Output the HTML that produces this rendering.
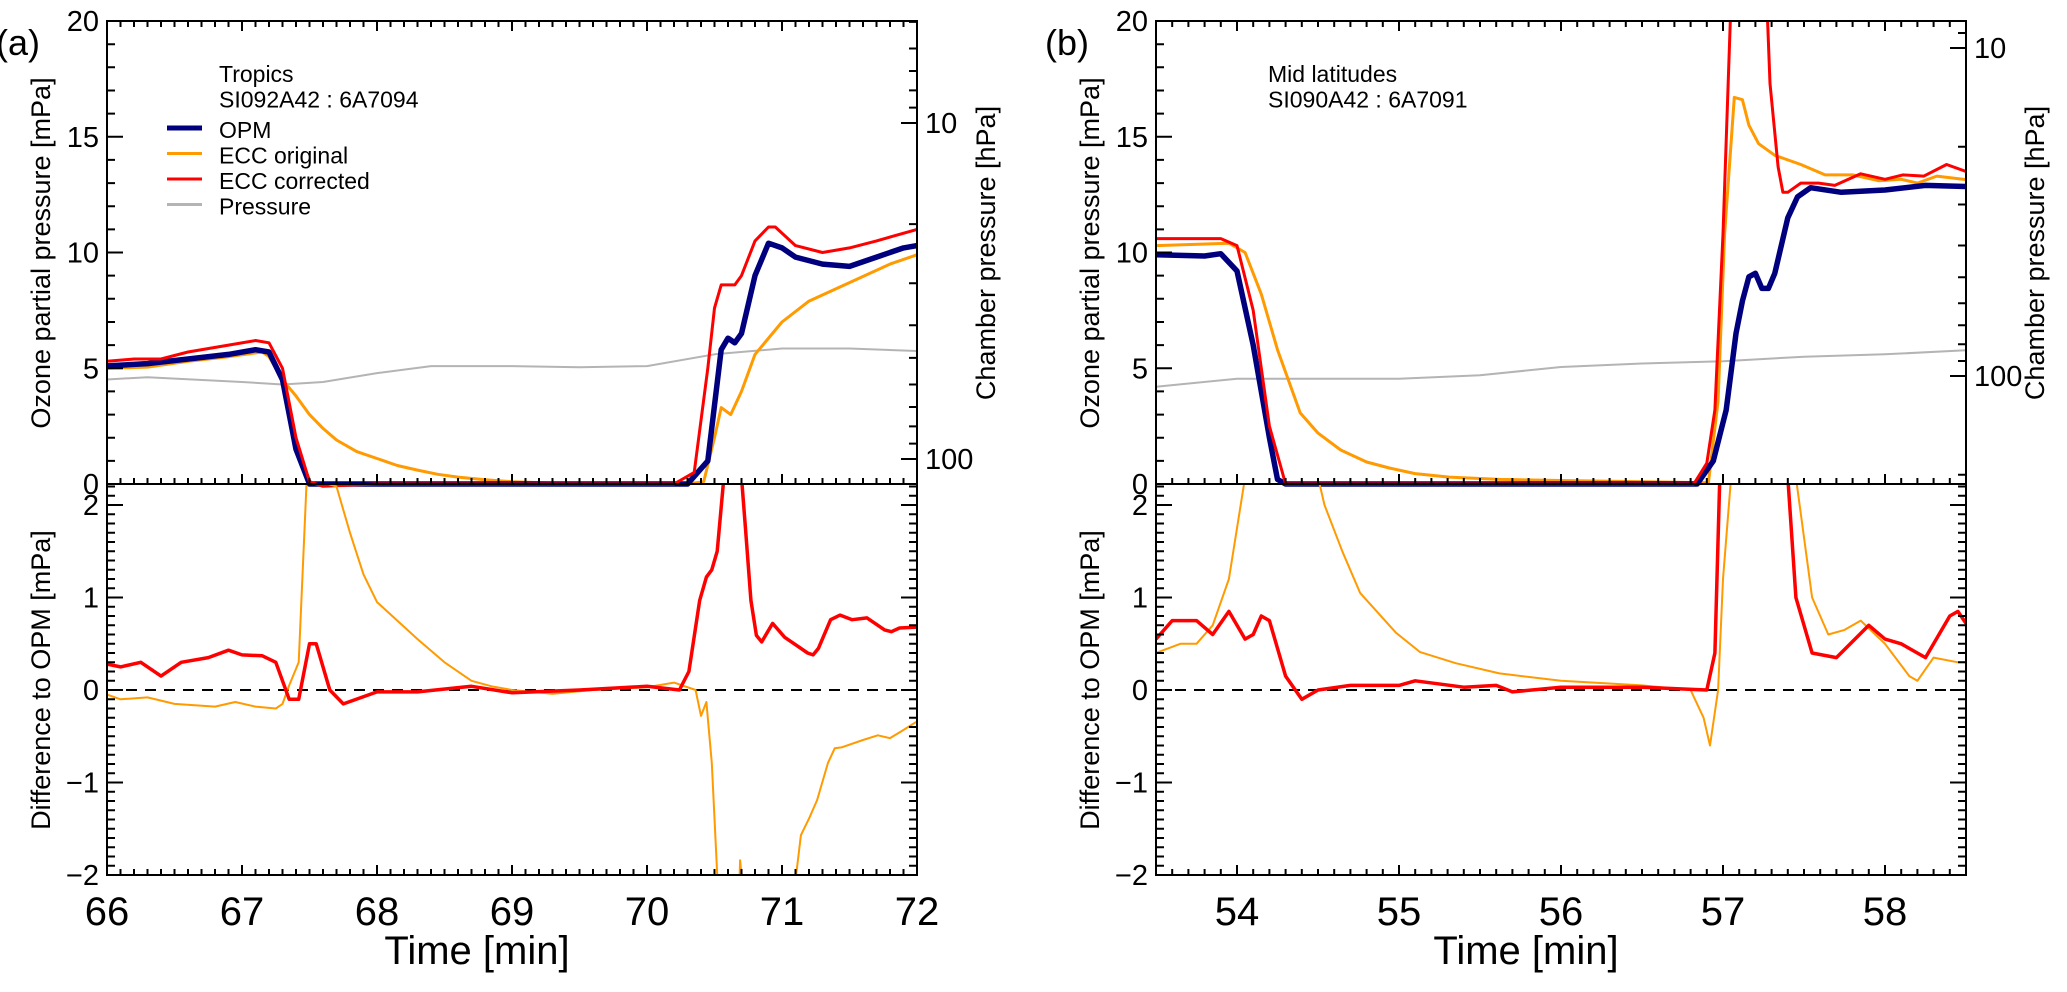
<!DOCTYPE html>
<html><head><meta charset="utf-8">
<style>
html,body{margin:0;padding:0;background:#fff;}
svg{display:block;font-family:"Liberation Sans",Arial,sans-serif;}
</style></head>
<body>
<svg id="chart" width="2067" height="992" viewBox="0 0 2067 992" xmlns="http://www.w3.org/2000/svg">
<defs>
<clipPath id="clipUa"><rect x="107" y="21" width="810" height="468"/></clipPath>
<clipPath id="clipLa"><rect x="107" y="484" width="810" height="391"/></clipPath>
<clipPath id="clipUb"><rect x="1156" y="21" width="810" height="468"/></clipPath>
<clipPath id="clipLb"><rect x="1156" y="484" width="810" height="391"/></clipPath>
</defs>
<g id="layer"></g>
</svg>
<script>
// ---------- Panel (a) data: Tropics ----------
const aOpmT = [66,66.3,66.6,66.9,67.1,67.2,67.3,67.4,67.5,68,68.5,69,69.5,70,70.3,70.45,70.55,70.6,70.65,70.7,70.8,70.9,71,71.1,71.3,71.5,71.7,71.9,72];
const aOpmV = [5.1,5.2,5.4,5.6,5.8,5.7,4.5,1.5,0,0,0,0,0,0,0,1,5.8,6.3,6.1,6.5,9,10.4,10.2,9.8,9.5,9.4,9.8,10.2,10.3];
const aCorT = [66,66.2,66.4,66.6,66.9,67.1,67.2,67.3,67.4,67.5,67.6,68,69,70,70.2,70.35,70.45,70.5,70.55,70.65,70.7,70.8,70.9,70.95,71.1,71.3,71.5,71.7,72];
const aCorV = [5.3,5.4,5.4,5.7,6.0,6.2,6.1,5,2,0.1,-0.1,0,0,0,0,0.5,5,7.6,8.6,8.6,9.0,10.5,11.1,11.1,10.3,10.0,10.2,10.5,11.0];
const aOriT = [66,66.3,66.6,66.9,67.15,67.2,67.3,67.4,67.5,67.6,67.7,67.85,68,68.15,68.3,68.45,68.6,68.8,69,69.5,70.3,70.42,70.5,70.55,70.62,70.7,70.8,71,71.2,71.5,71.8,72];
const aOriV = [5.0,5.05,5.3,5.5,5.7,5.5,4.5,3.8,3.0,2.4,1.9,1.4,1.1,0.8,0.6,0.42,0.3,0.18,0.1,0,0,0.1,2,3.3,3.0,4,5.6,7,7.9,8.7,9.5,9.9];
const aPresT = [66,66.3,67,67.3,67.6,68,68.4,69,69.5,70,70.5,71,71.5,72];
const aPresV = [58.0,57.1,59.0,60.0,59.0,55.5,52.9,52.9,53.3,52.9,48.8,46.9,46.9,47.7];
const aDCorT = [66,66.1,66.25,66.4,66.55,66.75,66.9,67.0,67.15,67.25,67.35,67.42,67.5,67.55,67.65,67.75,68,68.3,68.7,69,69.5,70,70.24,70.31,70.39,70.44,70.48,70.52,70.57,70.7,70.73,70.77,70.81,70.85,70.93,71.02,71.11,71.19,71.23,71.27,71.36,71.43,71.52,71.63,71.69,71.76,71.81,71.87,72];
const aDCorV = [0.28,0.25,0.3,0.15,0.3,0.35,0.43,0.38,0.37,0.3,-0.1,-0.1,0.5,0.5,0.0,-0.15,-0.02,-0.02,0.04,-0.03,0.0,0.04,0,0.2,0.97,1.22,1.3,1.5,2.3,2.3,1.73,0.97,0.59,0.52,0.72,0.57,0.48,0.4,0.38,0.45,0.76,0.81,0.76,0.78,0.72,0.65,0.63,0.67,0.68];
const aDOriT = [66,66.1,66.3,66.5,66.8,66.95,67.1,67.25,67.3,67.35,67.42,67.48,67.7,67.8,67.9,68,68.15,68.3,68.5,68.7,68.85,69,69.3,69.6,70,70.2,70.36,70.4,70.44,70.48,70.53,70.68,70.69,70.72,71.08,71.14,71.2,71.26,71.34,71.39,71.44,71.6,71.71,71.8,71.88,72];
const aDOriV = [-0.05,-0.1,-0.08,-0.15,-0.18,-0.13,-0.18,-0.2,-0.15,0.05,0.3,2.3,2.2,1.7,1.25,0.95,0.75,0.55,0.3,0.1,0.04,0,-0.04,0,0.03,0.08,0,-0.28,-0.13,-0.79,-2.3,-2.3,-1.84,-2.3,-2.3,-1.57,-1.39,-1.19,-0.79,-0.63,-0.62,-0.54,-0.49,-0.52,-0.45,-0.34];
// ---------- Panel (b) data: Mid latitudes ----------
const bOpmT = [53.5,53.8,53.9,54.0,54.1,54.2,54.25,54.3,55,56,56.84,56.94,57.02,57.08,57.12,57.16,57.2,57.24,57.28,57.32,57.4,57.46,57.54,57.73,58.0,58.25,58.5];
const bOpmV = [9.9,9.85,9.95,9.2,6,2,0.2,0,0,0,0,1.0,3.2,6.5,7.9,8.95,9.1,8.45,8.45,9.1,11.5,12.4,12.8,12.6,12.7,12.9,12.85];
const bCorT = [53.5,53.9,54.0,54.1,54.2,54.3,55,56,56.82,56.9,56.95,57.0,57.05,57.27,57.29,57.34,57.37,57.4,57.48,57.59,57.69,57.85,58.0,58.11,58.24,58.38,58.5];
const bCorV = [10.6,10.6,10.3,7.5,2.5,0,0,0,0,0.9,3.2,10.8,21,21,17.3,13.7,12.6,12.6,13.0,13.0,12.9,13.4,13.16,13.35,13.3,13.8,13.5];
const bOriT = [53.5,53.95,54.05,54.15,54.25,54.39,54.5,54.64,54.8,54.94,55.1,55.31,55.62,56,56.91,56.97,57.01,57.07,57.12,57.16,57.22,57.32,57.48,57.63,57.8,57.96,58.1,58.2,58.32,58.5];
const bOriV = [10.3,10.4,10,8.2,5.8,3.07,2.2,1.47,0.95,0.69,0.45,0.3,0.2,0.15,0.05,3.6,10.8,16.7,16.6,15.5,14.7,14.2,13.8,13.35,13.35,13.1,13.16,13.0,13.3,13.15];
const bPresT = [53.5,54,55,55.5,56,56.5,57,57.5,58,58.5];
const bPresV = [107.9,101.9,101.9,99.5,93.9,91.6,90.2,87.3,85.9,83.5];
const bDCorT = [53.5,53.6,53.75,53.85,53.95,54.05,54.1,54.15,54.2,54.3,54.4,54.5,54.7,55,55.1,55.4,55.6,55.7,56,56.5,56.9,56.95,56.98,57.4,57.45,57.55,57.7,57.9,58.0,58.1,58.25,58.4,58.45,58.5];
const bDCorV = [0.55,0.75,0.75,0.6,0.85,0.55,0.6,0.8,0.75,0.15,-0.1,0.0,0.05,0.05,0.1,0.03,0.05,-0.02,0.03,0.03,0.0,0.4,2.3,2.3,1.0,0.4,0.35,0.7,0.55,0.5,0.35,0.8,0.85,0.72];
const bDOriT = [53.5,53.65,53.75,53.85,53.95,54.05,54.5,54.54,54.65,54.76,54.98,55.13,55.35,55.62,56.0,56.5,56.8,56.88,56.92,56.97,57.0,57.05,57.45,57.55,57.65,57.75,57.85,58.0,58.15,58.2,58.3,58.45,58.5];
const bDOriV = [0.4,0.5,0.5,0.7,1.2,2.3,2.3,2.0,1.5,1.05,0.62,0.41,0.29,0.18,0.1,0.05,0.0,-0.3,-0.6,0.0,1.2,2.3,2.3,1.0,0.6,0.65,0.75,0.5,0.15,0.1,0.35,0.3,0.3];
// ---------- tick labels ----------
const aXTicks = [66,67,68,69,70,71,72];
const bXTicks = [54,55,56,57,58];
const upperYTicks = [0,5,10,15,20];
const lowerYTicks = [-2,-1,0,1,2];

const NS = "http://www.w3.org/2000/svg";
const layer = document.getElementById('layer');
function mk(tag, attrs, parent) {
  const e = document.createElementNS(NS, tag);
  for (const k in attrs) e.setAttribute(k, attrs[k]);
  (parent || layer).appendChild(e);
  return e;
}
const TOP = 21, MID = 484, BOT = 875;

function buildPanel(p) {
  const g = mk('g', {});
  
  
  const x = t => p.x0 + (t - p.t0) / (p.t1 - p.t0) * (p.x1 - p.x0);
  const yU = v => MID - v * 23.15;
  const yL = v => 690 - v * 92.5;
  const yP = hp => p.p10 + p.dec * (Math.log10(hp) - 1);
  const pathOf = (T, V, yf) => T.map((t, i) => (i ? 'L' : 'M') + x(t).toFixed(1) + ' ' + yf(V[i]).toFixed(1)).join(' ');
  const line = (T, V, yf, color, w, clip, name) => {
    const e = mk('path', {d: pathOf(T, V, yf), fill: 'none', stroke: color, 'stroke-width': w, 'stroke-linejoin': 'round', 'clip-path': 'url(#' + clip + ')'}, g);
    
    
  };
  line(p.presT, p.presV, yP, '#b4b4b4', 2, p.clipU, 'pressure-line');
  line(p.oriT, p.oriV, yU, '#ff9a00', 3, p.clipU, 'ecc-original-line');
  line(p.opmT, p.opmV, yU, '#00007f', 5.5, p.clipU, 'opm-line');
  line(p.corT, p.corV, yU, '#ff0000', 3, p.clipU, 'ecc-corrected-line');
  const z = mk('line', {x1: p.x0, x2: p.x1, y1: yL(0), y2: yL(0), stroke: '#000', 'stroke-width': 2, 'stroke-dasharray': '11 8'}, g);
  
  
  line(p.dOriT, p.dOriV, yL, '#ff9a00', 2, p.clipL, 'ecc-original-difference-line');
  line(p.dCorT, p.dCorV, yL, '#ff0000', 3.5, p.clipL, 'ecc-corrected-difference-line');
  const fr = mk('path', {d: `M${p.x0} ${TOP} H${p.x1} V${BOT} H${p.x0} Z M${p.x0} ${MID} H${p.x1}`, fill: 'none', stroke: '#000', 'stroke-width': 2}, g);
  
  
  let d = '';
  const n = Math.round((p.t1 - p.t0) * 10);
  for (let i = 0; i <= n; i++) {
    const t = p.t0 + i / 10;
    const major = Math.abs(t - Math.round(t)) < 1e-6;
    const L = major ? 10 : 6;
    const xx = x(t).toFixed(1);
    d += `M${xx} ${TOP} v${L} M${xx} ${MID} v${-L} M${xx} ${BOT} v${-L} `;
  }
  for (let v = 0; v <= 20; v++) {
    const L = v % 5 === 0 ? 16 : 8;
    d += `M${p.x0} ${yU(v).toFixed(1)} h${L} `;
  }
  for (let i = -20; i <= 22; i++) {
    const v = i / 10, L = i % 10 === 0 ? 16 : 8;
    const yy = yL(v).toFixed(1);
    d += `M${p.x0} ${yy} h${L} M${p.x1} ${yy} h${-L} `;
  }
  for (let dec = 1; dec <= 100; dec *= 10) {
    for (let m = 1; m <= 9; m++) {
      const hp = m * dec, yy = yP(hp);
      if (yy < TOP || yy > MID) continue;
      const L = m === 1 ? 16 : 8;
      d += `M${p.x1} ${yy.toFixed(1)} h${-L} `;
    }
  }
  const tk = mk('path', {d, fill: 'none', stroke: '#000', 'stroke-width': 2}, g);
  
  
  p.xTicks.forEach(t => {
    const e = mk('text', {x: x(t), y: 925, 'font-size': 40, 'text-anchor': 'middle'}, g);
    e.textContent = t;
    
    
  });
  upperYTicks.forEach(v => {
    const e = mk('text', {x: p.x0 - 8, y: yU(v) + 10, 'font-size': 29, 'text-anchor': 'end'}, g);
    e.textContent = v;
    
    
  });
  lowerYTicks.forEach(v => {
    const e = mk('text', {x: p.x0 - 8, y: yL(v) + 10, 'font-size': 29, 'text-anchor': 'end'}, g);
    e.textContent = v < 0 ? '\u2212' + (-v) : v;
    
    
  });
  [10, 100].forEach(hp => {
    const e = mk('text', {x: p.x1 + 8, y: yP(hp) + 10, 'font-size': 29}, g);
    e.textContent = hp;
    
    
  });
  const xt = mk('text', {x: (p.x0 + p.x1) / 2 - 35, y: 964, 'font-size': 40, 'text-anchor': 'middle'}, g);
  xt.textContent = 'Time [min]';
  
  
  const t1 = mk('text', {x: 0, y: 0, 'font-size': 27, 'text-anchor': 'middle', transform: `translate(${p.x0 - 57},253) rotate(-90)`}, g);
  t1.textContent = 'Ozone  partial  pressure [mPa]';
  
  
  const t2 = mk('text', {x: 0, y: 0, 'font-size': 27, 'text-anchor': 'middle', transform: `translate(${p.x0 - 57},680) rotate(-90)`}, g);
  t2.textContent = 'Difference to OPM [mPa]';
  
  
  const t3 = mk('text', {x: 0, y: 0, 'font-size': 27, 'text-anchor': 'middle', transform: `translate(${p.x1 + 78},253) rotate(-90)`}, g);
  t3.textContent = 'Chamber  pressure [hPa]';
  
  
  const pl = mk('text', {x: p.x0 - 89, y: 55, 'font-size': 36, 'text-anchor': 'middle'}, g);
  pl.textContent = p.label;
  
  
  p.notes.forEach((s, i) => {
    const e = mk('text', {x: p.x0 + 112, y: 82 + i * 25.5, 'font-size': 23}, g);
    e.textContent = s;
    
    
  });
  return g;
}

buildPanel({name: 'panel-a-tropics', label: '(a)', x0: 107, x1: 917, t0: 66, t1: 72, p10: 123, dec: 336,
  clipU: 'clipUa', clipL: 'clipLa', xTicks: aXTicks, notes: ['Tropics', 'SI092A42 : 6A7094'],
  opmT: aOpmT, opmV: aOpmV, corT: aCorT, corV: aCorV, oriT: aOriT, oriV: aOriV, presT: aPresT, presV: aPresV,
  dCorT: aDCorT, dCorV: aDCorV, dOriT: aDOriT, dOriV: aDOriV});
buildPanel({name: 'panel-b-mid-latitudes', label: '(b)', x0: 1156, x1: 1966, t0: 53.5, t1: 58.5, p10: 48, dec: 328,
  clipU: 'clipUb', clipL: 'clipLb', xTicks: bXTicks, notes: ['Mid latitudes', 'SI090A42 : 6A7091'],
  opmT: bOpmT, opmV: bOpmV, corT: bCorT, corV: bCorV, oriT: bOriT, oriV: bOriV, presT: bPresT, presV: bPresV,
  dCorT: bDCorT, dCorV: bDCorV, dOriT: bDOriT, dOriV: bDOriV});

const legendItems = ['OPM', 'ECC original', 'ECC corrected', 'Pressure'];
const legendColors = ['#00007f', '#ff9a00', '#ff0000', '#b4b4b4'];
const legendWidths = [5, 3, 3, 3];
const lg = mk('g', {});


legendItems.forEach((s, i) => {
  const yy = 133 + i * 25.5;
  const l = mk('line', {x1: 167, x2: 202, y1: yy - 5, y2: yy - 5, stroke: legendColors[i], 'stroke-width': legendWidths[i]}, lg);
  
  
  const t = mk('text', {x: 219, y: yy + 5, 'font-size': 23}, lg);
  t.textContent = s;
  
  
});
</script>
</body></html>
